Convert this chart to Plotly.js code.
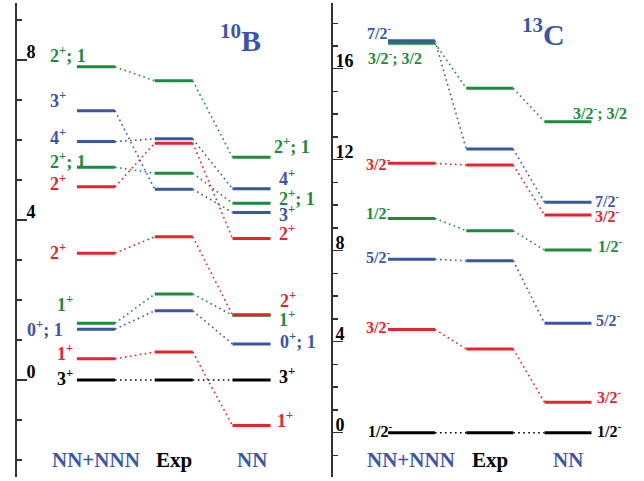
<!DOCTYPE html>
<html><head><meta charset="utf-8">
<script src="https://cdn.plot.ly/plotly-3.0.1.min.js"></script>
<style>body{margin:0;background:#fff}#c{width:644px;height:481px}</style>
</head><body><div id="c"></div>
<script>
// ---------- DATA ----------
const columns = ["NN+NNN", "Exp", "NN"];
// 10B levels (MeV): one entry per state
const b10_nnnnn = [0, 0.53, 1.27, 1.42, 3.17, 4.83, 5.32, 5.96, 6.73, 7.83];
const b10_exp   = [0, 0.70, 1.73, 2.15, 3.58, 5.92, 5.17, 6.03, 4.77, 7.48];
const b10_nn    = [0, -1.14, 0.90, 1.62, 1.63, 3.54, 4.42, 4.78, 4.19, 5.57];
const b10_labels = ["3<sup>+</sup>", "1<sup>+</sup>", "0<sup>+</sup>; 1", "1<sup>+</sup>", "2<sup>+</sup>",
                    "2<sup>+</sup>", "2<sup>+</sup>; 1", "4<sup>+</sup>", "3<sup>+</sup>", "2<sup>+</sup>; 1"];
const b10_kind = ["k", "r", "b", "g", "r", "r", "g", "b", "b", "g"];
// 13C levels (MeV)
const c13_nnnnn = [0, 4.54, 7.62, 9.42, 11.84, 17.12, 17.23];
const c13_exp   = [0, 3.68, 7.56, 8.88, 11.77, 15.14, 12.47];
const c13_nn    = [0, 1.34, 4.81, 8.03, 9.57, 13.67, 10.13];
const c13_labels = ["1/2<sup>-</sup>", "3/2<sup>-</sup>", "5/2<sup>-</sup>", "1/2<sup>-</sup>", "3/2<sup>-</sup>",
                    "3/2<sup>-</sup>; 3/2", "7/2<sup>-</sup>"];
const c13_kind = ["k", "r", "b", "g", "r", "g", "b"];
const yTickVals_b10 = [0, 4, 8];
const yTickVals_c13 = [0, 4, 8, 12, 16];

// ---------- STYLE ----------
const COL = {k: "#000000", r: "#e8232a", b: "#3b56a6", g: "#1d8a3d"};
const SERIF = "Liberation Serif";
const B = s => "<b>" + s + "</b>";
// label nudges in px: [dx, dy] (dy positive = up)
const b10_leftShift  = [[-22,3],[-22,6],[-52,1],[-22,20],[-29,2],[-29,4],[-29,7],[-29,5],[-29,11],[-29,12]];
const b10_rightShift = [[6,5],[4,6],[7,4],[6,-3],[7,15],[6,6],[6,6],[6,11],[6,-1],[1,12]];
const c13_leftShift  = [[-22,3],[-24,3],[-24,3],[-24,6],[-24,0],[-22,-14],[-23,9]];
const c13_rightShift = [[4,3],[4,6],[3,4],[5,5],[2,0],[-20,10],[2,2]];

const W = 644;
const panels = [
  {xa: "x", ya: "y", hw: 0.245, sets: [b10_nnnnn, b10_exp, b10_nn], labels: b10_labels, kind: b10_kind,
   ls: b10_leftShift, rs: b10_rightShift, fs: 18},
  {xa: "x2", ya: "y2", hw: 0.30, sets: [c13_nnnnn, c13_exp, c13_nn], labels: c13_labels, kind: c13_kind,
   ls: c13_leftShift, rs: c13_rightShift, fs: 16}
];

const traces = [];
const annotations = [];
panels.forEach(p => {
  // connectors first (under levels)
  p.kind.forEach((k, i) => {
    for (let c = 0; c < 2; c++) {
      traces.push({x: [c + p.hw, c + 1 - p.hw], y: [p.sets[c][i], p.sets[c + 1][i]],
        xaxis: p.xa, yaxis: p.ya, mode: "lines", hoverinfo: "skip",
        line: {color: COL[k], width: 1.6, dash: "1.6px,3.4px"}});
    }
  });
  // levels
  p.kind.forEach((k, i) => {
    for (let c = 0; c < 3; c++) {
      traces.push({x: [c - p.hw, c + p.hw], y: [p.sets[c][i], p.sets[c][i]],
        xaxis: p.xa, yaxis: p.ya, mode: "lines", hoverinfo: "skip",
        line: {color: COL[k], width: 3}});
    }
  });
  // state labels
  p.kind.forEach((k, i) => {
    annotations.push({x: 0 - p.hw, y: p.sets[0][i], xref: p.xa, yref: p.ya, text: B(p.labels[i]),
      showarrow: false, xanchor: "left", yanchor: "middle", xshift: p.ls[i][0], yshift: p.ls[i][1],
      font: {family: SERIF, size: p.fs, color: COL[k]}});
    annotations.push({x: 2 + p.hw, y: p.sets[2][i], xref: p.xa, yref: p.ya, text: B(p.labels[i]),
      showarrow: false, xanchor: "left", yanchor: "middle", xshift: p.rs[i][0], yshift: p.rs[i][1],
      font: {family: SERIF, size: p.fs, color: COL[k]}});
  });
  // column labels
  columns.forEach((name, c) => {
    annotations.push({x: c, y: 0, xref: p.xa, yref: "paper", text: B(name), showarrow: false,
      xanchor: "center", yanchor: "bottom", yshift: 3,
      font: {family: SERIF, size: 21, color: c === 1 ? "#000" : COL.b}});
  });
});

annotations.push({x: 218 / W, y: 1, xref: "paper", yref: "paper", xanchor: "left", yanchor: "top",
  yshift: -14, text: B("<sup>10</sup>B"), showarrow: false,
  font: {family: SERIF, size: 30, color: COL.b}});
annotations.push({x: 520 / W, y: 1, xref: "paper", yref: "paper", xanchor: "left", yanchor: "top",
  yshift: -8, text: B("<sup>13</sup>C"), showarrow: false,
  font: {family: SERIF, size: 30, color: COL.b}});

const yax = (range, tv, standoff) => ({
  range: range, showline: true, linewidth: 2, linecolor: "#333", showgrid: false, zeroline: false,
  ticks: "inside", ticklen: 10, tickwidth: 1.5, tickcolor: "#333",
  tickvals: tv, ticktext: tv.map(v => B(String(v))),
  ticklabelposition: "inside top", ticklabelstandoff: standoff, ticklabelshift: 5,
  tickfont: {family: SERIF, size: 18, color: "#000"},
  minor: {dtick: 1, tick0: 0, ticks: "inside", ticklen: 5, tickwidth: 1.5, tickcolor: "#333", showgrid: false}
});

const layout = {
  width: 644, height: 481, margin: {l: 0, r: 0, t: 3, b: 4}, showlegend: false,
  paper_bgcolor: "#fff", plot_bgcolor: "rgba(0,0,0,0)",
  xaxis: {domain: [17 / W, 332 / W], range: [-1.016, 3.035], visible: false, fixedrange: true},
  xaxis2: {domain: [333 / W, 1], range: [-1.003, 2.971], visible: false, fixedrange: true},
  yaxis: Object.assign(yax([-2.425, 9.425], yTickVals_b10, 9), {anchor: "x"}),
  yaxis2: Object.assign(yax([-1.947, 18.89], yTickVals_c13, 2), {anchor: "x2"}),
  annotations: annotations
};

Plotly.newPlot("c", traces, layout, {displayModeBar: false, staticPlot: true});
</script></body></html>
